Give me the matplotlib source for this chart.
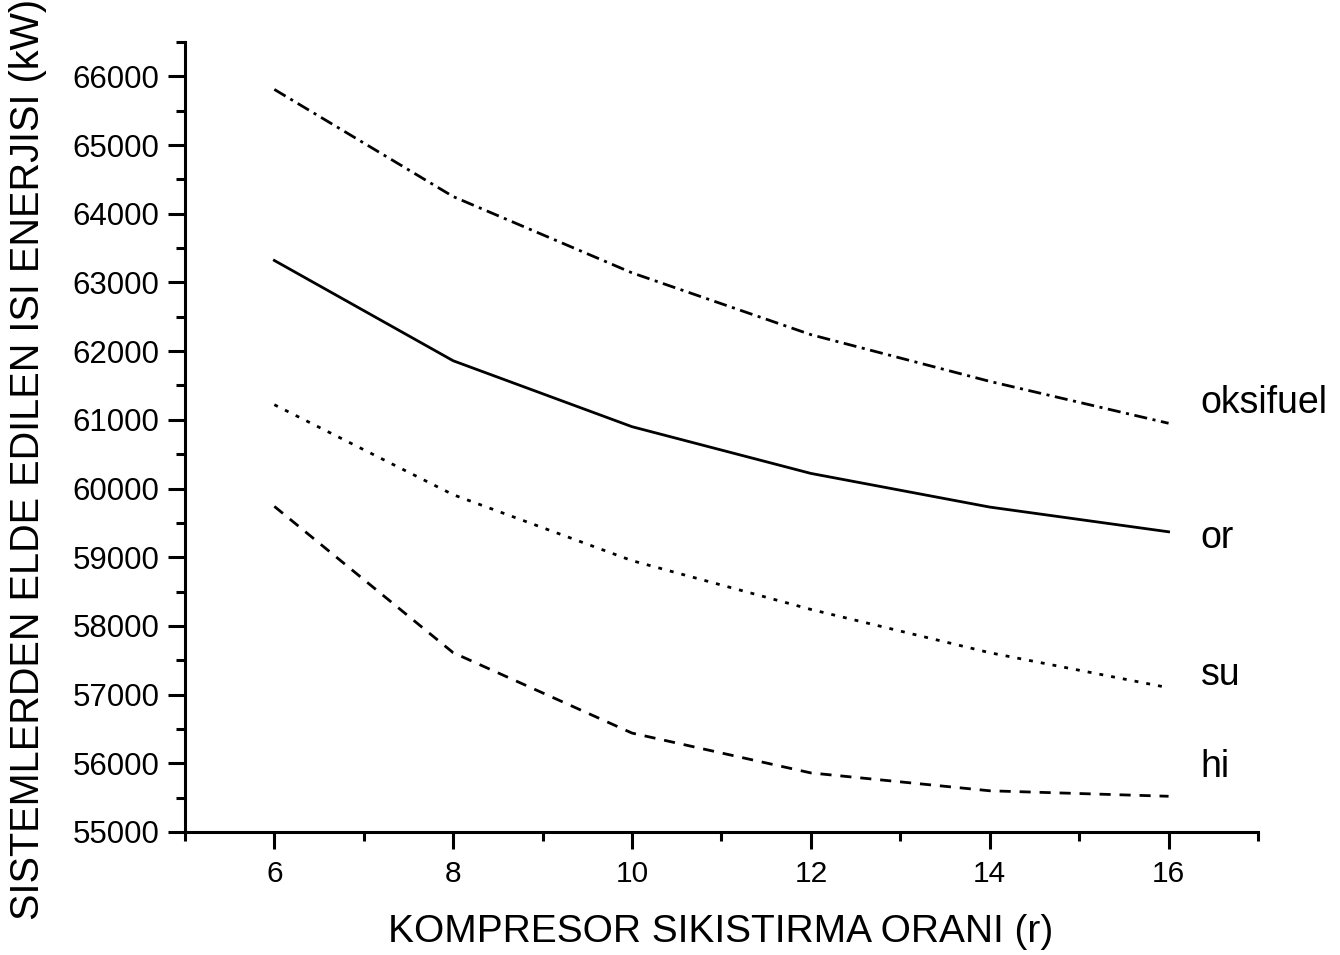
import matplotlib
matplotlib.use("Agg")
import matplotlib.pyplot as plt
from matplotlib import font_manager
from matplotlib.ticker import MultipleLocator

# ---- data ----
ratio = [6, 8, 10, 12, 14, 16]
oksifuel = [65810, 64250, 63140, 62240, 61560, 60950]
orr = [63320, 61860, 60900, 60220, 59730, 59370]
su = [61220, 59910, 58950, 58240, 57610, 57100]
hi = [59740, 57610, 56440, 55860, 55600, 55520]
series_names = ["oksifuel", "or", "su", "hi"]

x_label = "KOMPRESOR SIKISTIRMA ORANI (r)"
y_label = "SISTEMLERDEN ELDE EDILEN ISI ENERJISI (kW)"

names = {f.name for f in font_manager.fontManager.ttflist}
narrow = "Liberation Sans Narrow" if "Liberation Sans Narrow" in names else "Liberation Sans"
regular = "Liberation Sans"
plt.rcParams['font.family'] = [regular, 'DejaVu Sans']

fig = plt.figure(figsize=(13.4, 9.55), dpi=100)
ax = fig.add_axes([0.138, 0.1288, 0.8008, 0.8272])

lw = 2.0
ax.plot(ratio, oksifuel, color='black', lw=lw, dashes=(4.7, 2.0, 1.1, 2.0))
ax.plot(ratio, orr, color='black', lw=lw, linestyle='-')
ax.plot(ratio, su, color='black', lw=lw, dashes=(1.4, 2.9))
ax.plot(ratio, hi, color='black', lw=lw, dashes=(4.0, 3.2))

ax.set_xlim(5, 17)
ax.set_ylim(55000, 66500)

for s in ['top', 'right']:
    ax.spines[s].set_visible(False)
for s in ['left', 'bottom']:
    ax.spines[s].set_linewidth(2.2)

ax.set_xticks([6, 8, 10, 12, 14, 16])
ax.xaxis.set_minor_locator(MultipleLocator(1))
ax.yaxis.set_major_locator(MultipleLocator(1000))
ax.yaxis.set_minor_locator(MultipleLocator(500))
ax.tick_params(which='major', direction='out', length=12, width=2.2)
ax.tick_params(which='minor', direction='out', length=6.5, width=2.2)
ax.tick_params(axis='y', which='major', labelsize=22.5, pad=6.5)
ax.tick_params(axis='x', which='major', labelsize=21.5, pad=8)

fig.text(721 / 1340, 1 - 932 / 955, x_label, fontsize=28, fontfamily=narrow,
         ha='center', va='center')
fig.text(28 / 1340, 1 - 459 / 955, y_label, fontsize=28.5, fontfamily=narrow,
         ha='center', va='center', rotation=90)

label_pos = [(16.36, 61250), (16.36, 59280), (16.36, 57280), (16.36, 55940)]
for name, (lx, ly) in zip(series_names, label_pos):
    ax.text(lx, ly, name, fontsize=27, va='center', ha='left', clip_on=False)

fig.savefig("out.png", dpi=100)
